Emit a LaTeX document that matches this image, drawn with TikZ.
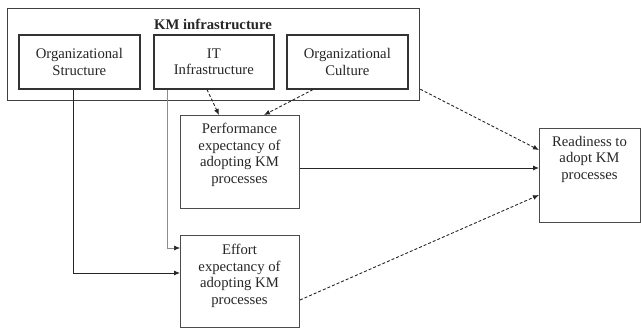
\documentclass[tikz,border=0pt]{standalone}
\usepackage{fontspec}
\setmainfont{Liberation Serif}
\usetikzlibrary{arrows.meta,calc}
\begin{document}
\begin{tikzpicture}[x=1pt,y=-1pt,
  every node/.style={font=\fontsize{14.7}{16.6}\selectfont, text=black!85},
  outerbox/.style={draw=black!75, line width=1.2pt, minimum width=412pt, minimum height=92pt, anchor=north west, inner sep=0pt},
  innerbox/.style={draw=black!80, line width=1.6pt, minimum height=54pt, anchor=north west, align=center, inner sep=0pt},
  lowbox/.style={draw=black!70, line width=1pt, anchor=north west, inner sep=0pt},
  txt/.style={align=center, anchor=north, inner sep=0pt},
  arr/.style={-{Latex[length=6pt,width=5pt]}, line width=0.9pt, draw=black!85},
  thinarr/.style={-{Latex[length=6pt,width=5pt,color=black!85]}, line width=0.6pt, draw=black!45},
  dsh/.style={arr, dash pattern=on 3pt off 2pt}
]
\useasboundingbox (0,0) rectangle (641,329);

% KM infrastructure
\node[outerbox] (km) at (7,8) {};
\node[font=\fontsize{14.7}{16.6}\selectfont\bfseries] (kmt) at (213,24) {KM infrastructure};
\node[innerbox, minimum width=121pt] (orgs) at (18,34) {Organizational\\Structure};
\node[innerbox, minimum width=120pt] (it) at (153,34) {IT\\Infrastructure};
\node[innerbox, minimum width=121pt] (orgc) at (286,34) {Organizational\\Culture};

% lower boxes
\node[lowbox, minimum width=119pt, minimum height=93pt] (perf) at (180,115) {};
\node[txt] (perft) at (239.5,123) {Performance\\expectancy of\\adopting KM\\processes};
\node[lowbox, minimum width=119pt, minimum height=92pt] (eff) at (180,235) {};
\node[txt] (efft) at (239.5,244) {Effort\\expectancy of\\adopting KM\\processes};
\node[lowbox, minimum width=101pt, minimum height=94pt] (ready) at (539,128) {};
\node[txt] (readyt) at (589.5,136) {Readiness to\\adopt KM\\processes};

% connectors
\draw[arr] ([xshift=55pt]orgs.south west) |- ([yshift=-38pt]eff.north west);
\draw[thinarr] ([xshift=14pt]it.south west) |- ([yshift=-13pt]eff.north west);
\draw[dsh] ([xshift=54pt]it.south west) -- ([xshift=39pt]perf.north west);
\draw[dsh] ([xshift=27pt]orgc.south west) -- ([xshift=84pt]perf.north west);
\draw[dsh] ([yshift=12pt]km.south east) -- ([yshift=-22pt]ready.north west);
\coordinate (p1) at ([yshift=-53pt]perf.north east);
\draw[arr] (p1) -- (p1 -| ready.west);
\draw[dsh] ([yshift=-65pt]eff.north east) -- ([yshift=-67pt]ready.north west);
\end{tikzpicture}
\end{document}
